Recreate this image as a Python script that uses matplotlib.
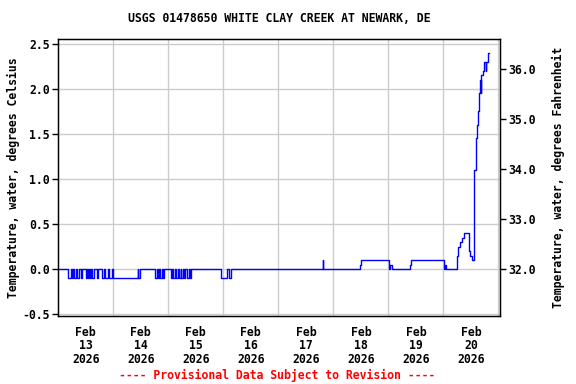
import matplotlib
matplotlib.use("Agg")
import matplotlib.pyplot as plt
import matplotlib.dates as mdates
from matplotlib.ticker import FixedLocator, NullFormatter
from datetime import datetime, timedelta

# Data: change points (hours since 2026-02-13 00:00) and water temperature (deg C)
hours = [0.0, 4.4, 5.4, 5.8, 6.4, 6.8, 7.7, 8.1, 9.0, 9.9, 10.5, 11.9, 12.5, 12.9,
         13.4, 13.7, 14.3, 14.8, 15.4, 16.7, 17.5, 18.9, 19.8, 20.4, 21.5, 22.3,
         23.3, 24.0, 34.6, 34.9, 35.8,
         42.3, 42.9, 43.3, 43.8, 44.4, 45.2, 45.7, 46.3,
         49.0, 49.6, 50.2, 50.8, 51.3, 52.2, 52.8, 53.4, 53.7, 54.3, 54.8, 55.4,
         56.3, 56.9, 57.5, 58.0,
         71.0, 73.5, 74.3, 75.2,
         115.4, 115.7,
         131.7, 132.2, 144.4, 144.8, 145.4, 153.5, 154.0,
         168.5, 168.7, 169.0,
         174.1, 174.5, 175.3, 176.0, 177.0, 179.2, 179.6, 180.4, 181.3, 181.5,
         182.1, 182.8, 183.3, 183.7, 184.1, 184.4, 184.6, 185.2, 185.9, 186.6,
         186.8, 187.6, 187.9]
temps = [0.0, -0.1, 0.0, -0.1, 0.0, -0.1, 0.0, -0.1, 0.0, -0.1, 0.0, -0.1, 0.0, -0.1,
         0.0, -0.1, 0.0, -0.1, 0.0, -0.1, 0.0, -0.1, 0.0, -0.1, 0.0, -0.1,
         0.0, -0.1, 0.0, -0.1, 0.0,
         -0.1, 0.0, -0.1, 0.0, -0.1, 0.0, -0.1, 0.0,
         -0.1, 0.0, -0.1, 0.0, -0.1, 0.0, -0.1, 0.0, -0.1, 0.0, -0.1, 0.0,
         -0.1, 0.0, -0.1, 0.0,
         -0.1, 0.0, -0.1, 0.0,
         0.1, 0.0,
         0.05, 0.1, 0.0, 0.05, 0.0, 0.05, 0.1,
         0.0, 0.05, 0.0,
         0.15, 0.25, 0.3, 0.35, 0.4, 0.2, 0.15, 0.1, 0.2, 1.1,
         1.45, 1.6, 1.75, 1.95, 2.1, 1.95, 2.15, 2.2, 2.3, 2.2,
         2.3, 2.4, 2.4]

day_labels = ["Feb\n13\n2026", "Feb\n14\n2026", "Feb\n15\n2026", "Feb\n16\n2026",
              "Feb\n17\n2026", "Feb\n18\n2026", "Feb\n19\n2026", "Feb\n20\n2026"]
c_ticks = [-0.5, 0.0, 0.5, 1.0, 1.5, 2.0, 2.5]
f_ticks = [32.0, 33.0, 34.0, 35.0, 36.0]

title = "USGS 01478650 WHITE CLAY CREEK AT NEWARK, DE"
ylabel_left = "Temperature, water, degrees Celsius"
ylabel_right = "Temperature, water, degrees Fahrenheit"
footer = "---- Provisional Data Subject to Revision ----"

start = datetime(2026, 2, 13)
times = [start + timedelta(hours=h) for h in hours]

FONT = "DejaVu Sans Mono"
FS = 8.3
plt.rcParams["font.family"] = FONT
plt.rcParams["font.weight"] = "bold"

fig = plt.figure(figsize=(5.76, 3.84), dpi=100)
ax = fig.add_axes([58.3 / 576, 1 - 316 / 384, (499.7 - 58.3) / 576, (316 - 39.3) / 384])

ax.plot(times, temps, drawstyle="steps-post", color="#0000ff", lw=1.0, zorder=3)

ymin, ymax = -0.522, 2.552
ax.set_ylim(ymin, ymax)
xmin = start
xmax = start + timedelta(hours=192.6)
ax.set_xlim(xmin, xmax)

# x axis: grid at midnights, labels at noon
midnights = [start + timedelta(days=i) for i in range(1, 9)]
noons = [start + timedelta(days=i, hours=12) for i in range(8)]
ax.xaxis.set_major_locator(FixedLocator(mdates.date2num(midnights)))
ax.xaxis.set_major_formatter(NullFormatter())
ax.xaxis.set_minor_locator(FixedLocator(mdates.date2num(noons)))
ax.set_xticklabels(day_labels, minor=True)
ax.tick_params(axis="x", which="major", length=0)
ax.tick_params(axis="x", which="minor", length=0, pad=7, labelsize=FS)
for lbl in ax.get_xticklabels(minor=True):
    lbl.set_fontweight("bold")
    lbl.set_linespacing(1.05)

ax.set_yticks(c_ticks)
ax.set_yticklabels([f"{v:.1f}" for v in c_ticks], fontsize=FS, fontweight="bold")
ax.tick_params(axis="y", which="major", length=4, width=1, pad=2)

ax.grid(True, which="major", color="#cccccc", lw=1.0, zorder=0)
for s in ax.spines.values():
    s.set_linewidth(1.0)
    s.set_color("black")

ax.set_ylabel(ylabel_left, fontsize=FS, fontweight="bold", labelpad=2)

ax2 = ax.twinx()
ax2.set_ylim(ymin * 1.8 + 32, ymax * 1.8 + 32)
ax2.set_yticks(f_ticks)
ax2.set_yticklabels([f"{v:.1f}" for v in f_ticks], fontsize=FS, fontweight="bold")
ax2.tick_params(axis="y", length=4, width=1, pad=2)
ax2.set_ylabel(ylabel_right, fontsize=FS, fontweight="bold", labelpad=12)

fig.text(279 / 576, 1 - 19 / 384, title, ha="center", va="center",
         fontsize=FS, fontweight="bold")
fig.text(277 / 576, 1 - 375 / 384, footer, ha="center", va="center",
         fontsize=FS, fontweight="bold", color="#ff0000")

fig.savefig("out.png", dpi=100)
